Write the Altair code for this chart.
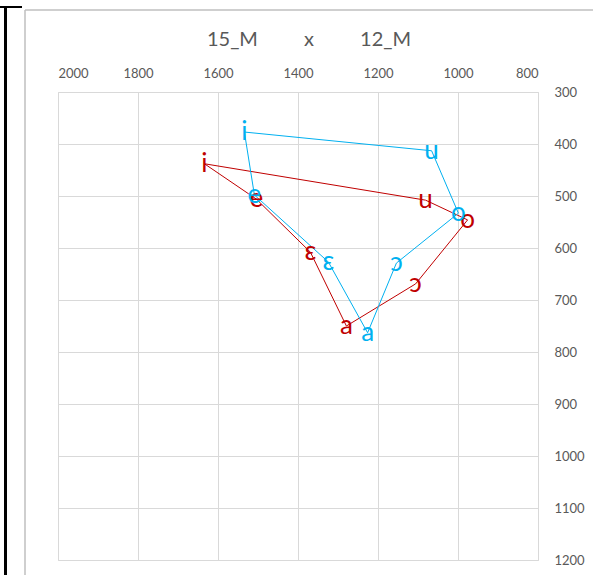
import altair as alt
import pandas as pd

# Vowel formants (F2 on the horizontal axis, F1 on the vertical axis), in Hz
vowels = ["i", "e", "ɛ", "a", "ɔ", "o", "u"]
f2_15m = [1634, 1504, 1369, 1279, 1106, 976, 1081]
f1_15m = [438, 506, 608, 750, 669, 546, 508]
f2_12m = [1534, 1509, 1324, 1226, 1154, 999, 1066]
f1_12m = [377, 498, 627, 763, 629, 533, 413]

series_names = ["15_M", "12_M"]
series_colors = ["#C00000", "#00B0F0"]
x_ticks = [2000, 1800, 1600, 1400, 1200, 1000, 800]
y_ticks = [300, 400, 500, 600, 700, 800, 900, 1000, 1100, 1200]
title_text = "15_M\u00a0\u00a0\u00a0\u00a0\u00a0\u00a0\u00a0\u00a0\u00a0x\u00a0\u00a0\u00a0\u00a0\u00a0\u00a0\u00a0\u00a0\u00a012_M"

FONT = "Lato"
GRAY_TXT = "#595959"


def build_rows(name, f2, f1):
    rows = []
    for k, (v, a, b) in enumerate(zip(vowels, f2, f1)):
        rows.append({"series": name, "vowel": v, "F2": a, "F1": b, "ord": k})
    return rows


points = pd.DataFrame(build_rows("15_M", f2_15m, f1_15m) + build_rows("12_M", f2_12m, f1_12m))
# closed polygon: repeat the first vowel at the end of each series
closing = points[points["ord"] == 0].copy()
closing["ord"] = len(vowels)
polygon = pd.concat([points, closing], ignore_index=True)

x_enc = alt.X(
    "F2:Q",
    scale=alt.Scale(domain=[800, 2000], reverse=True, nice=False, zero=False),
    axis=alt.Axis(
        orient="top", values=x_ticks, title=None, domain=False, ticks=False,
        grid=True, gridColor="#D9D9D9", gridWidth=1, format="d",
        labelColor=GRAY_TXT, labelFont=FONT, labelFontSize=13, labelPadding=12,
    ),
)
y_enc = alt.Y(
    "F1:Q",
    scale=alt.Scale(domain=[300, 1200], reverse=True, nice=False, zero=False),
    axis=alt.Axis(
        orient="right", values=y_ticks, title=None, domain=False, ticks=False,
        grid=True, gridColor="#D9D9D9", gridWidth=1, format="d",
        labelColor=GRAY_TXT, labelFont=FONT, labelFontSize=13, labelPadding=16,
        labelAlign="left",
    ),
)
color_enc = alt.Color(
    "series:N",
    scale=alt.Scale(domain=series_names, range=series_colors),
    legend=None,
)

lines = alt.Chart(polygon).mark_line(strokeWidth=1).encode(
    x=x_enc, y=y_enc, color=color_enc, order="ord:Q", detail="series:N"
)

labels = alt.Chart(points).mark_text(
    font=FONT, fontSize=26, baseline="middle", align="center"
).encode(
    x=alt.X("F2:Q"), y=alt.Y("F1:Q"), text="vowel:N", color=color_enc
)

one = pd.DataFrame({"t": [title_text]})
title = alt.Chart(one).mark_text(
    font=FONT, fontSize=20, color=GRAY_TXT, baseline="middle", align="center"
).encode(text="t:N", x=alt.value(251), y=alt.value(-52))

# frame lines around the chart area
frame_gray_v = alt.Chart(one).mark_rule(color="#BFBFBF", strokeWidth=1.5).encode(
    x=alt.value(-33), y=alt.value(-82), y2=alt.value(490)
)
frame_gray_h = alt.Chart(one).mark_rule(color="#BFBFBF", strokeWidth=1.5).encode(
    x=alt.value(-33), x2=alt.value(540), y=alt.value(-82)
)
frame_black_v = alt.Chart(one).mark_rule(color="#000000", strokeWidth=3).encode(
    x=alt.value(-52.5), y=alt.value(-86), y2=alt.value(490)
)
frame_black_h = alt.Chart(one).mark_rule(color="#000000", strokeWidth=2).encode(
    x=alt.value(-60), x2=alt.value(-36), y=alt.value(-85)
)

chart = alt.layer(
    frame_gray_v, frame_gray_h, frame_black_v, frame_black_h,
    lines, labels, title,
).properties(
    width=480,
    height=468,
    autosize=alt.AutoSizeParams(type="none"),
    padding={"left": 58, "top": 92, "right": 55, "bottom": 15},
).configure_view(
    stroke=None
).configure(
    background="white"
)

chart.save("out.html", embed_options={"renderer": "svg", "actions": False})
